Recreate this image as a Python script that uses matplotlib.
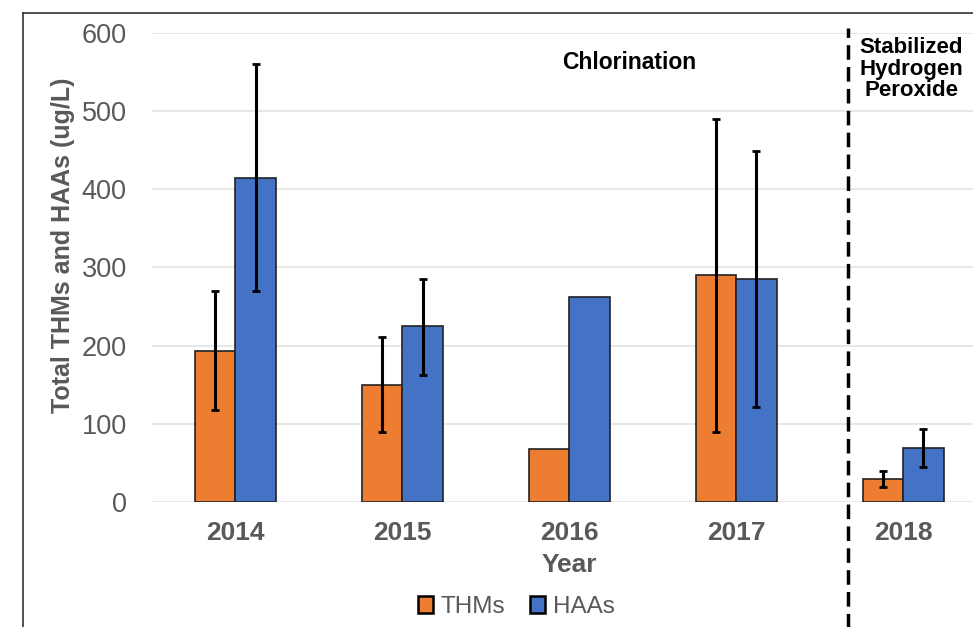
import matplotlib.pyplot as plt
import numpy as np
from matplotlib.lines import Line2D
from matplotlib.patches import Patch
import matplotlib.transforms as mtransforms

plt.rcParams['font.family'] = ['Liberation Sans', 'DejaVu Sans']

C_ORANGE = '#ED7D31'
C_BLUE = '#4472C4'
C_GRAY = '#595959'

years = ['2014', '2015', '2016', '2017', '2018']
thms = [193, 150, 68, 290, 29]
thms_lo = [118, 90, np.nan, 90, 19]
thms_hi = [270, 211, np.nan, 490, 39]
haas = [415, 225, 262, 285, 69]
haas_lo = [270, 163, np.nan, 122, 45]
haas_hi = [560, 285, np.nan, 449, 94]

fig = plt.figure(figsize=(9.73, 6.27), dpi=100)
ax = fig.add_axes([0.156, 0.1994, 0.858, 0.748])

x = np.arange(len(years))
w = 0.243

def err(v, lo, hi):
    v = np.array(v, float)
    return np.vstack([v - np.array(lo, float), np.array(hi, float) - v])

ax.bar(x - w / 2, thms, w, color=C_ORANGE, edgecolor='#222222', linewidth=1.2, zorder=2)
ax.bar(x + w / 2, haas, w, color=C_BLUE, edgecolor='#222222', linewidth=1.2, zorder=2)
ax.errorbar(x - w / 2, thms, yerr=err(thms, thms_lo, thms_hi), fmt='none',
            ecolor='black', elinewidth=2.2, capsize=3, capthick=2, zorder=3)
ax.errorbar(x + w / 2, haas, yerr=err(haas, haas_lo, haas_hi), fmt='none',
            ecolor='black', elinewidth=2.2, capsize=3, capthick=2, zorder=3)

ax.set_xlim(-0.5, 4.5)
ax.set_ylim(0, 600)
ax.set_yticks(np.arange(0, 601, 100))
ax.set_xticks(x)
ax.set_xticklabels(years, fontsize=19, fontweight='bold', color=C_GRAY)
ax.tick_params(axis='y', labelsize=19.5, labelcolor=C_GRAY, length=0, pad=18)
ax.tick_params(axis='x', length=0, pad=14)
ax.grid(axis='y', color='#E3E3E3', linewidth=1.2, zorder=0)
ax.set_axisbelow(True)
for s in ax.spines.values():
    s.set_visible(False)

ax.set_xlabel('Year', fontsize=19, fontweight='bold', color=C_GRAY)
ax.xaxis.set_label_coords(0.5, -0.108)
ax.set_ylabel('Total THMs and HAAs (ug/L)', fontsize=18, fontweight='bold', color=C_GRAY)
ax.yaxis.set_label_coords(-0.092, 0.548)

# treatment divider
trans = mtransforms.blended_transform_factory(ax.transData, ax.transAxes)
ax.plot([3.67, 3.67], [-0.268, 1.011], transform=trans, color='black',
        linestyle=(0, (4.2, 2.1)), linewidth=2.5, clip_on=False, zorder=4)

ax.text(2.36, 0.938, 'Chlorination', transform=trans, ha='center', va='center',
        fontsize=16.5, fontweight='bold')
ax.text(4.05, 0.923, 'Stabilized\nHydrogen\nPeroxide', transform=trans,
        ha='center', va='center', fontsize=16, fontweight='bold', linespacing=1.05)

# outer frame
fig.add_artist(Line2D([23 / 973, 23 / 973], [0, 1 - 13 / 627], color='#333333',
                      linewidth=1.2, transform=fig.transFigure))
fig.add_artist(Line2D([23 / 973, 1], [1 - 13 / 627, 1 - 13 / 627], color='#333333',
                      linewidth=1.2, transform=fig.transFigure))

handles = [Patch(facecolor=C_ORANGE, edgecolor='black', linewidth=1.8, label='THMs'),
           Patch(facecolor=C_BLUE, edgecolor='black', linewidth=1.8, label='HAAs')]
leg = fig.legend(handles=handles, loc='center', bbox_to_anchor=(516 / 973, 1 - 607 / 627),
                 ncol=2, frameon=False, fontsize=17.5, handlelength=0.65, handleheight=0.65,
                 handletextpad=0.3, columnspacing=1.0)
for t in leg.get_texts():
    t.set_color(C_GRAY)

fig.savefig('out.png', dpi=100)
